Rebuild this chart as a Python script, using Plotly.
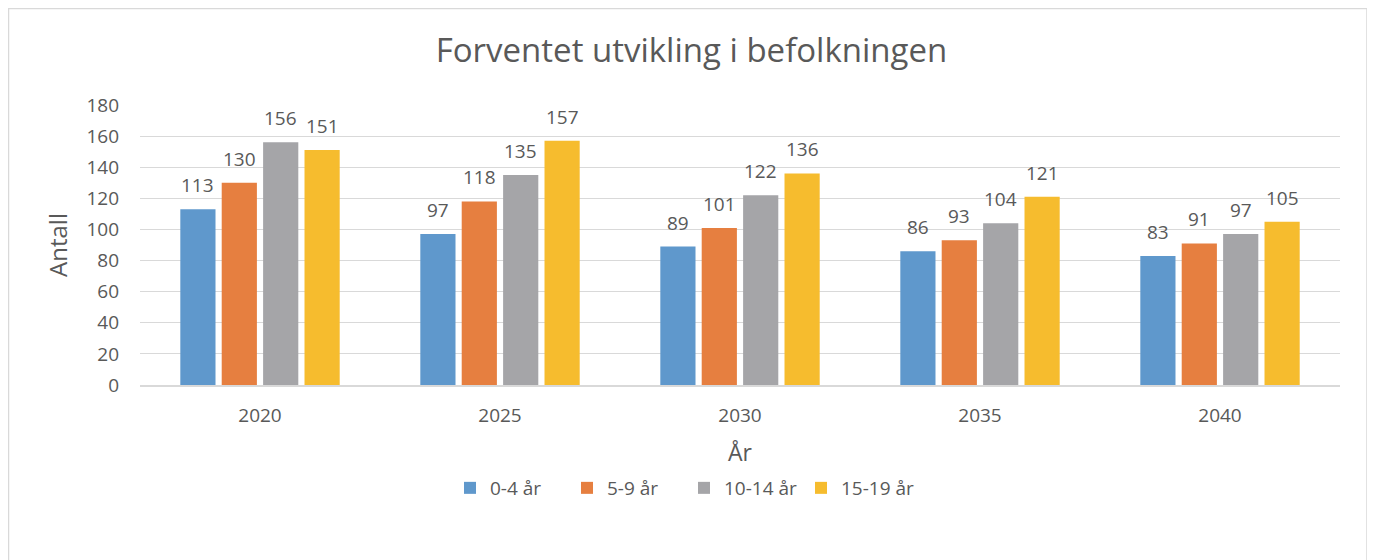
import plotly.graph_objects as go

years = ["2020", "2025", "2030", "2035", "2040"]
series_names = ["0-4 år", "5-9 år", "10-14 år", "15-19 år"]
v_0_4 = [113, 97, 89, 86, 83]
v_5_9 = [130, 118, 101, 93, 91]
v_10_14 = [156, 135, 122, 104, 97]
v_15_19 = [151, 157, 136, 121, 105]
colors = ["#5F98CC", "#E67F40", "#A5A5A8", "#F6BC2E"]

# page offset of the html body
ox, oy = 8, 8
W, H = 1375 - ox, 560 - oy
# target plot area in screenshot pixels
L, R, T, B = 140, 1340, 105, 385
ml, mr, mt, mb = L - ox, W - (R - ox), T - oy, H - (B - oy)
pw, ph = W - ml - mr, H - mt - mb
txt = "#595959"
font_fam = "Open Sans, Liberation Sans, sans-serif"
bargap, bargroupgap = 0.31, 0.15
n_series = len(series_names)
slot_px = pw / len(years) * (1 - bargap) / n_series

fig = go.Figure()
all_vals = [v_0_4, v_5_9, v_10_14, v_15_19]
for name, vals, c in zip(series_names, all_vals, colors):
    fig.add_trace(go.Bar(
        x=years, y=vals, name=name, marker=dict(color=c, line=dict(width=0)),
    ))

annotations = []
for i, vals in enumerate(all_vals):
    shift = (i - (n_series - 1) / 2) * slot_px
    for j, v in enumerate(vals):
        annotations.append(dict(
            x=j, y=v, xref="x", yref="y", text=str(v), showarrow=False,
            xanchor="center", yanchor="bottom", xshift=shift, yshift=9,
            font=dict(size=19, color=txt, family=font_fam),
        ))

def px_x(p):
    return (p - ox - ml) / pw

def px_y(p):
    return 1 - (p - oy - mt) / ph

fig.update_layout(
    width=W, height=H,
    margin=dict(l=ml, r=mr, t=mt, b=mb),
    paper_bgcolor="white", plot_bgcolor="white",
    font=dict(family=font_fam, color=txt, size=18),
    title=dict(text="Forventet utvikling i befolkningen", x=0.5, xanchor="center",
               y=1 - (50 - oy) / H, yanchor="middle", font=dict(size=33, color=txt)),
    barmode="group", bargap=bargap, bargroupgap=bargroupgap,
    xaxis=dict(type="category", range=[-0.5, len(years) - 0.5],
               showgrid=False, showline=True, linecolor="#D9D9D9", linewidth=2,
               ticks="", tickfont=dict(size=19, color=txt), ticklabelstandoff=12,
               title=dict(text="År", font=dict(size=23, color=txt), standoff=18)),
    yaxis=dict(range=[0, 180], dtick=20, showgrid=True, gridcolor="#D9D9D9", gridwidth=1,
               zeroline=False, showline=False, ticks="",
               tickfont=dict(size=19, color=txt), ticklabelstandoff=20,
               title=dict(text="Antall", font=dict(size=24, color=txt), standoff=12)),
    legend=dict(orientation="h", x=px_x(450), xanchor="left", y=px_y(488), yanchor="middle",
                font=dict(size=19, color=txt), traceorder="normal", itemwidth=30,
                entrywidthmode="pixels", entrywidth=72),
    showlegend=True,
    annotations=annotations,
)

fig.add_shape(type="rect", xref="paper", yref="paper",
              x0=px_x(8.5), x1=px_x(1367), y0=px_y(8.5), y1=px_y(575),
              line=dict(color="#D9D9D9", width=1.5), fillcolor="rgba(0,0,0,0)", layer="below")

fig.write_html("out.html")
